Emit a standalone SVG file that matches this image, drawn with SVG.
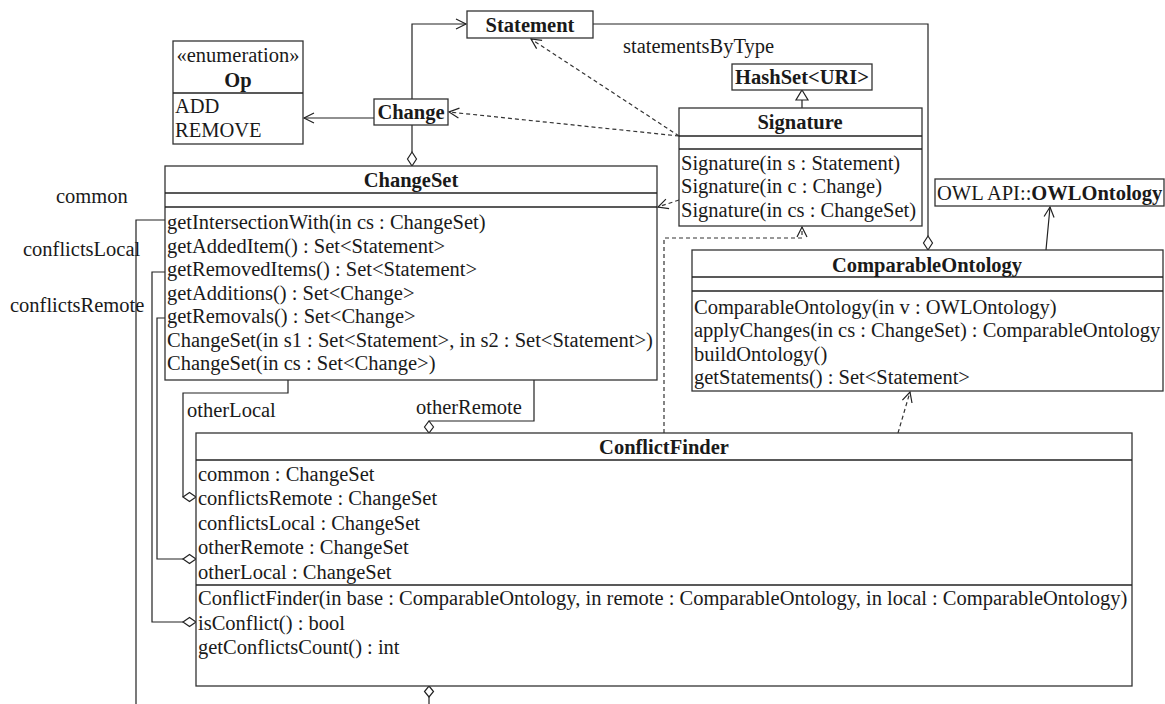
<svg xmlns="http://www.w3.org/2000/svg" width="1165" height="704" viewBox="0 0 1165 704">
<defs>
<style>
text{font-family:"Liberation Serif","Times New Roman",serif;font-size:20.5px;fill:#1a1a1a}
.c{text-anchor:middle}
.b{font-weight:bold}
.box{fill:#fff;stroke:#333;stroke-width:1.3}
.sep{stroke:#222;stroke-width:1.5}
.conn path{fill:none;stroke:#222;stroke-width:1.2}
.conn path.dash{stroke-dasharray:4 3;stroke:#333}
.dia{fill:#fff;stroke:#222;stroke-width:1.2}
.tri{fill:#fff;stroke:#222;stroke-width:1.2}
</style>
<marker id="open" markerUnits="userSpaceOnUse" markerWidth="14" markerHeight="14" refX="10" refY="5" orient="auto" overflow="visible">
<path d="M0,0 L10,5 L0,10" fill="none" stroke="#222" stroke-width="1.2"/>
</marker>
</defs>
<rect x="0" y="0" width="1165" height="704" fill="#fff"/>

<g id="connectors" class="conn">
<path d="M374,118 H304" marker-end="url(#open)"/>
<path d="M412,99 V24 H466" marker-end="url(#open)"/>
<path d="M412,125 V152"/>
<polygon class="dia" points="412,152 416.5,159 412,166 407.5,159"/>
<path d="M593,24 H928 V236"/>
<polygon class="dia" points="928,236 932.5,243 928,250 923.5,243"/>
<path d="M802,108 V100"/>
<polygon class="tri" points="802,90 808,100 796,100"/>
<path class="dash" d="M679,136 L531,39" marker-end="url(#open)"/>
<path class="dash" d="M679,136 L449,112" marker-end="url(#open)"/>
<path class="dash" d="M679,200 L658,207" marker-end="url(#open)"/>
<path class="dash" d="M664,433 V238 H802 V227" marker-end="url(#open)"/>
<path class="dash" d="M898,433 L910,392" marker-end="url(#open)"/>
<path d="M1046,250 L1050,207" marker-end="url(#open)"/>
<path d="M165,220 H136 V704"/>
<path d="M165,272 H152 V622 H183"/>
<polygon class="dia" points="183,622 189.5,617.5 196,622 189.5,626.5"/>
<path d="M165,318 H157 V559 H183"/>
<polygon class="dia" points="183,559 189.5,554.5 196,559 189.5,563.5"/>
<path d="M288,380 V393 H183 V497"/>
<polygon class="dia" points="183,497 189.5,492.5 196,497 189.5,501.5"/>
<path d="M534,380 V421 H429"/>
<polygon class="dia" points="429,421 433.5,427 429,433 424.5,427"/>
<polygon class="dia" points="429,686 433.5,691.5 429,697 424.5,691.5"/>
<path d="M429,697 V704"/>
</g>

<g id="labels">
<text x="623" y="53">statementsByType</text>
<text x="56" y="203">common</text>
<text x="23" y="256">conflictsLocal</text>
<text x="10" y="312">conflictsRemote</text>
<text x="187" y="417">otherLocal</text>
<text x="416" y="414">otherRemote</text>
</g>

<g id="Statement">
<rect class="box" x="467" y="11" width="126" height="27"/>
<text class="c b" x="530" y="32">Statement</text>
</g>

<g id="Op">
<rect class="box" x="173" y="41" width="130" height="103"/>
<line class="sep" x1="173" y1="93" x2="303" y2="93"/>
<text class="c" x="238" y="62">«enumeration»</text>
<text class="c b" x="238" y="87">Op</text>
<text x="175" y="112.5">ADD</text>
<text x="175" y="136.5">REMOVE</text>
</g>

<g id="Change">
<rect class="box" x="374" y="99" width="74" height="26"/>
<text class="c b" x="411" y="119">Change</text>
</g>

<g id="HashSet">
<rect class="box" x="732" y="64" width="140" height="26"/>
<text class="c b" x="802" y="84">HashSet&lt;URI&gt;</text>
</g>

<g id="Signature">
<rect class="box" x="679" y="108" width="243" height="118"/>
<line class="sep" x1="679" y1="136" x2="922" y2="136"/>
<line class="sep" x1="679" y1="149" x2="922" y2="149"/>
<text class="c b" x="800" y="129">Signature</text>
<text x="681" y="169.5">Signature(in s : Statement)</text>
<text x="681" y="193">Signature(in c : Change)</text>
<text x="681" y="216.5">Signature(in cs : ChangeSet)</text>
</g>

<g id="OWLOntology">
<rect class="box" x="935" y="179" width="229" height="27"/>
<text x="937" y="200">OWL API::<tspan class="b">OWLOntology</tspan></text>
</g>

<g id="ChangeSet">
<rect class="box" x="165" y="166" width="492" height="214"/>
<line class="sep" x1="165" y1="193" x2="657" y2="193"/>
<line class="sep" x1="165" y1="207" x2="657" y2="207"/>
<text class="c b" x="411" y="187">ChangeSet</text>
<text x="167" y="229">getIntersectionWith(in cs : ChangeSet)</text>
<text x="167" y="252.5">getAddedItem() : Set&lt;Statement&gt;</text>
<text x="167" y="276">getRemovedItems() : Set&lt;Statement&gt;</text>
<text x="167" y="299.5">getAdditions() : Set&lt;Change&gt;</text>
<text x="167" y="323">getRemovals() : Set&lt;Change&gt;</text>
<text x="167" y="346.5">ChangeSet(in s1 : Set&lt;Statement&gt;, in s2 : Set&lt;Statement&gt;)</text>
<text x="167" y="370">ChangeSet(in cs : Set&lt;Change&gt;)</text>
</g>

<g id="ComparableOntology">
<rect class="box" x="692" y="250" width="471" height="141"/>
<line class="sep" x1="692" y1="277" x2="1163" y2="277"/>
<line class="sep" x1="692" y1="291" x2="1163" y2="291"/>
<text class="c b" x="927" y="272">ComparableOntology</text>
<text x="694" y="313.5">ComparableOntology(in v : OWLOntology)</text>
<text x="694" y="337">applyChanges(in cs : ChangeSet) : ComparableOntology</text>
<text x="694" y="360.5">buildOntology()</text>
<text x="694" y="384">getStatements() : Set&lt;Statement&gt;</text>
</g>

<g id="ConflictFinder">
<rect class="box" x="196" y="433" width="936" height="253"/>
<line class="sep" x1="196" y1="460" x2="1132" y2="460"/>
<line class="sep" x1="196" y1="585" x2="1132" y2="585"/>
<text class="c b" x="664" y="454">ConflictFinder</text>
<text x="198" y="480.5">common : ChangeSet</text>
<text x="198" y="505">conflictsRemote : ChangeSet</text>
<text x="198" y="529.5">conflictsLocal : ChangeSet</text>
<text x="198" y="554">otherRemote : ChangeSet</text>
<text x="198" y="578.5">otherLocal : ChangeSet</text>
<text x="198" y="605">ConflictFinder(in base : ComparableOntology, in remote : ComparableOntology, in local : ComparableOntology)</text>
<text x="198" y="629.5">isConflict() : bool</text>
<text x="198" y="654">getConflictsCount() : int</text>
</g>
</svg>
